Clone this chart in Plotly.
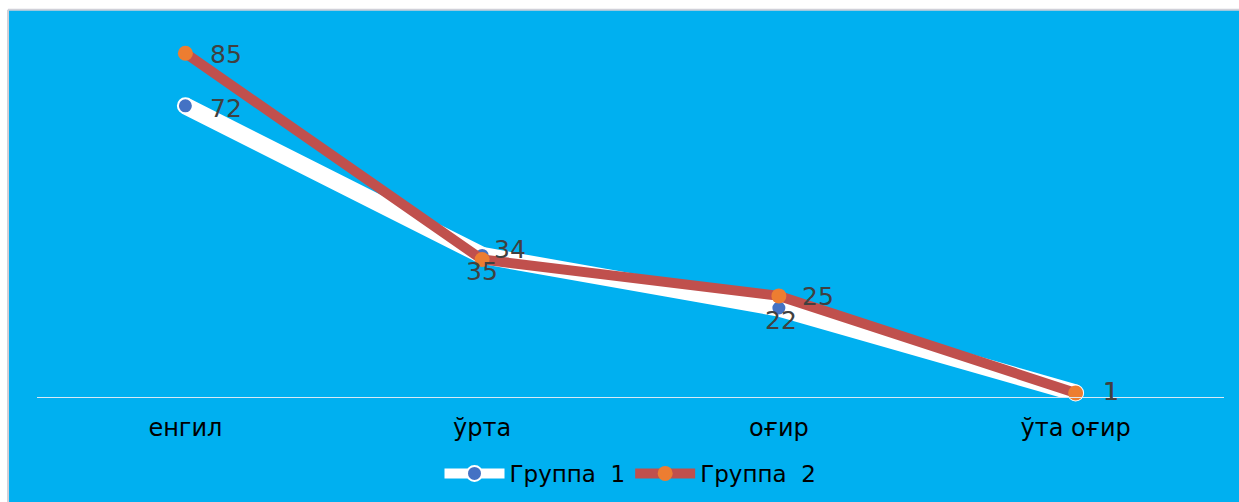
import plotly.graph_objects as go

categories = ["енгил", "ўрта", "оғир", "ўта оғир"]
group1 = [72, 35, 22, 1]
group2 = [85, 34, 25, 1]
series_names = ["Группа  1", "Группа  2"]

# label placement (anchor, x shift px, y shift px) per point
lab1 = [("left", 23, -3), ("center", 0, -16), ("center", 2, -12), ("left", 25, 1)]
lab2 = [("left", 23, -1), ("left", 10, 10), ("left", 21, -1), ("left", 25, 1)]

BLUE_BG = "#00B0F0"
FONT = "DejaVu Sans, Verdana, sans-serif"
LABEL_COLOR = "#404040"

fig = go.Figure()
fig.add_trace(go.Scatter(
    x=categories, y=group1, name=series_names[0], mode="lines+markers",
    line=dict(color="white", width=17),
    marker=dict(color="#4472C4", size=15, line=dict(color="white", width=2)),
    cliponaxis=False,
))
fig.add_trace(go.Scatter(
    x=categories, y=group2, name=series_names[1], mode="lines+markers",
    line=dict(color="#C0504D", width=10),
    marker=dict(color="#ED7D31", size=15),
    cliponaxis=False,
))

annotations = []
for vals, labs in ((group1, lab1), (group2, lab2)):
    for cat, v, (anc, dx, dy) in zip(categories, vals, labs):
        annotations.append(dict(
            x=cat, y=v, xref="x", yref="y", text=str(v), showarrow=False,
            xanchor=anc, yanchor="middle", xshift=dx, yshift=dy,
            font=dict(size=25, color=LABEL_COLOR, family=FONT),
        ))

fig.update_layout(
    width=1239, height=502,
    margin=dict(l=37, r=15, t=33, b=105, autoexpand=False),
    paper_bgcolor=BLUE_BG, plot_bgcolor=BLUE_BG,
    font=dict(family=FONT, size=23, color="black"),
    showlegend=True,
    legend=dict(orientation="h", x=0.5, xanchor="center", y=-0.21, yanchor="middle",
                font=dict(size=23, color="black", family=FONT),
                bgcolor="rgba(0,0,0,0)", itemwidth=60),
    xaxis=dict(type="category", range=[-0.5, 3.5], showgrid=False, zeroline=False,
               showline=True, linecolor="#D9E9F5", linewidth=1,
               ticks="outside", ticklen=9, tickcolor="rgba(0,0,0,0)",
               tickfont=dict(size=24, color="black", family=FONT)),
    yaxis=dict(range=[0, 90], showgrid=False, zeroline=False, showline=False,
               showticklabels=False, ticks=""),
    annotations=annotations,
    shapes=[
        dict(type="rect", xref="paper", yref="paper", x0=-0.05, x1=1.05,
             y0=1.066, y1=1.2, fillcolor="white", line=dict(width=0), layer="above"),
        dict(type="line", xref="paper", yref="paper", x0=-0.0244, x1=1.05,
             y0=1.064, y1=1.064, line=dict(color="#D0D0D8", width=2), layer="above"),
        dict(type="rect", xref="paper", yref="paper", x0=-0.05, x1=-0.0244,
             y0=-0.3, y1=1.2, fillcolor="white", line=dict(width=0), layer="above"),
        dict(type="line", xref="paper", yref="paper", x0=-0.0244, x1=-0.0244,
             y0=-0.3, y1=1.064, line=dict(color="#D0D0D8", width=2), layer="above"),
    ],
)

fig.write_html("out.html")
